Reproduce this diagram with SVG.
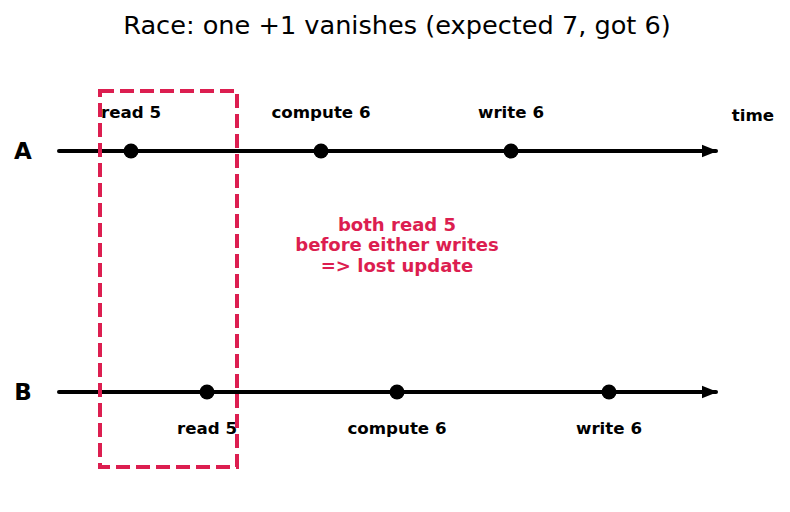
<svg xmlns="http://www.w3.org/2000/svg" width="790" height="512" viewBox="0 0 790 512">
<defs>
<style>
.t{font-family:"DejaVu Sans",sans-serif;font-weight:bold;font-size:16.67px;fill:#000;text-anchor:middle}
.lane{font-family:"DejaVu Sans",sans-serif;font-weight:bold;font-size:23px;fill:#000;text-anchor:middle}
.line{stroke:#000;stroke-width:4;stroke-linecap:round;fill:none}
.note{font-family:"DejaVu Sans",sans-serif;font-weight:bold;font-size:18.06px;fill:#dc1e50;text-anchor:middle}
</style>
<marker id="ah" viewBox="0 0 10 10" refX="9" refY="5" markerWidth="4" markerHeight="4" markerUnits="strokeWidth" orient="auto">
<path d="M0,1 L10,5 L0,9 z" fill="#000"/>
</marker>
</defs>
<rect width="790" height="512" fill="#fff"/>
<text x="397" y="34" font-family="DejaVu Sans, sans-serif" font-size="25.6" text-anchor="middle" fill="#000">Race: one +1 vanishes (expected 7, got 6)</text>
<g id="connectors">
<line class="line" x1="59" y1="151" x2="716" y2="151" marker-end="url(#ah)"/>
<line class="line" x1="59" y1="392" x2="716" y2="392" marker-end="url(#ah)"/>
</g>
<g id="laneA"><text class="lane" x="23" y="159">A</text></g>
<g id="laneB"><text class="lane" x="23" y="400">B</text></g>
<g id="time"><text class="t" x="753" y="121">time</text></g>
<g id="a-read"><circle cx="131" cy="151" r="7.5"/><text class="t" x="131" y="118">read 5</text></g>
<g id="a-compute"><circle cx="321" cy="151" r="7.5"/><text class="t" x="321" y="118">compute 6</text></g>
<g id="a-write"><circle cx="511" cy="151" r="7.5"/><text class="t" x="511" y="118">write 6</text></g>
<g id="b-read"><circle cx="207" cy="392" r="7.5"/><text class="t" x="207" y="434">read 5</text></g>
<g id="b-compute"><circle cx="397" cy="392" r="7.5"/><text class="t" x="397" y="434">compute 6</text></g>
<g id="b-write"><circle cx="609" cy="392" r="7.5"/><text class="t" x="609" y="434">write 6</text></g>
<g id="window"><rect x="100" y="91" width="137" height="376" fill="none" stroke="#dc1e50" stroke-width="4" stroke-dasharray="14,6"/></g>
<g id="note">
<text class="note" x="397" y="231">both read 5</text>
<text class="note" x="397" y="251">before either writes</text>
<text class="note" x="397" y="272">=&gt; lost update</text>
</g>
</svg>
